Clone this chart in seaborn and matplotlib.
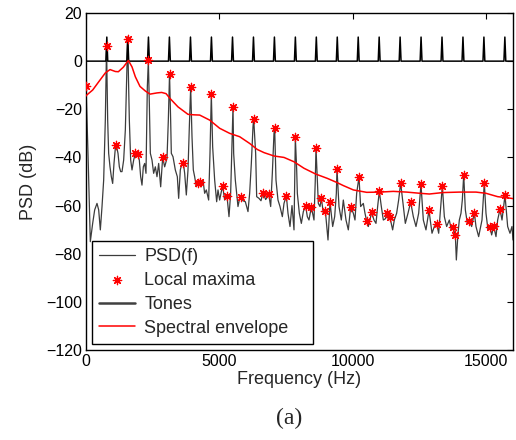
import matplotlib
matplotlib.use("Agg")
import matplotlib.pyplot as plt
import seaborn as sns
import numpy as np

# ---------------- data ----------------
psd_freq = [0, 75, 162, 250, 325, 412, 475, 537, 600, 662, 724, 770, 812, 849, 899, 949, 999, 1049, 1099,
            1136, 1199, 1249, 1299, 1349, 1411, 1474, 1561, 1624, 1674, 1724, 1786, 1848, 1898, 1936, 1998,
            2048, 2098, 2148, 2198, 2248, 2298, 2336, 2373, 2411, 2473, 2535, 2598, 2660, 2723, 2798, 2873,
            2947, 3035, 3085, 3130,
            3172, 3197, 3260, 3347, 3422, 3472, 3534, 3597, 3647, 3697, 3759, 3822, 3872, 3922, 3972, 4021,
            4071, 4134, 4196, 4271, 4321, 4384, 4446, 4508, 4596, 4646, 4696, 4746, 4821, 4896, 4946, 5008,
            5071, 5121, 5196, 5283, 5358, 5420, 5483, 5508, 5533, 5595, 5645, 5695, 5745, 5795, 5882, 5970,
            6070, 6132, 6195, 6257, 6283,
            6357, 6395, 6482, 6557, 6632, 6732, 6795, 6845, 6920, 6982, 7044, 7070, 7119, 7194, 7269, 7357,
            7419, 7507, 7569, 7644, 7719, 7794, 7844, 7894, 7919, 7994, 8069, 8144, 8231, 8293, 8356, 8443,
            8543, 8590, 8618, 8668, 8705, 8768, 8818, 8893, 8968, 9068, 9143, 9243, 9318, 9380, 9405, 9480,
            9567, 9642,
            9742, 9829, 9917, 10017, 10079, 10142, 10229, 10291, 10391, 10454, 10516, 10579, 10704, 10791,
            10866, 10928, 10991, 11066, 11141, 11216, 11290, 11340, 11390, 11490, 11553, 11640, 11715, 11790,
            11890, 11965, 12065, 12165, 12265, 12365, 12465, 12552, 12640, 12739, 12852,
            12965, 13052, 13140, 13215, 13290, 13352, 13427, 13514, 13614, 13689, 13764, 13800, 13839, 13877,
            13939, 13989, 14051, 14101, 14153, 14214, 14289, 14364, 14451, 14551, 14613, 14713, 14788, 14838,
            14925, 14988, 15063, 15139, 15200, 15276, 15363, 15425, 15513, 15588, 15700, 15800, 15887, 15962,
            16000]
psd_db = [-10.0, -38.3, -75, -67.4, -61.8, -59.1, -61.8, -70.1, -60.4, -49.4, -24.5, 6.2, -24.5, -38.3, -43.9,
          -48, -50.8, -42.5, -36.2, -34.9, -38.3, -43.9, -45.9, -45.9, -41.1, -28.6, 9.1, -24.5, -41.1, -45.2,
          -41.1, -38.3, -39.7, -38.6, -41.1, -48, -51.5, -43.9, -42.5, -46.6, -10.7, 0.3, -17.6, -38.3, -41.1,
          -46.6, -43.9, -48, -42.5, -52.2, -40, -43.9, -40.4, -24.5, -5.3,
          -24.5, -38.3, -39.7, -45.2, -48, -57, -45.2, -42.5, -42.2, -46.6, -55.6, -45.2, -27.3, -10.9, -31.4,
          -45.2, -48, -52.2, -50.5, -50.2, -52.2, -49.4, -54.9, -53.5, -57.7, -38.3, -13.8, -35.6, -49.4,
          -58.4, -53.5, -57.7, -54.2, -51.9, -57.7, -56, -64.6, -54.9, -30, -19, -38.3, -49.4, -54.9, -60.4,
          -57.7, -56.3, -58, -58.4, -62.5, -54.9, -42.5, -27.3, -24,
          -38.3, -56.3, -57, -58, -54.6, -57.5, -56.5, -55.1, -60.4, -46.6, -30, -27.9, -49.4, -57.7, -60.4,
          -64.6, -59.1, -55.9, -63.2, -68.7, -60, -70.1, -31.7, -45, -54.9, -63.2, -67.4, -62.5, -60.2, -64.6,
          -66, -60.6, -66, -50, -36, -49.4, -59.1, -60.4, -57, -63, -62.1, -74.3, -58.6, -68.7, -64.6, -55,
          -44.8, -60.4, -66, -57.7,
          -66, -70.1, -60.5, -63.2, -66, -54.9, -48.1, -60.4, -59.1, -63.2, -66.4, -68.7, -62.8, -66, -67.4,
          -60.4, -54.1, -60.4, -66, -65.5, -63.2, -66, -64.9, -70.1, -66, -63.2, -57.7, -50.6, -60.4, -67.4,
          -63.2, -58.5, -64.6, -68.7, -63.2, -51.2, -66, -70.1, -62,
          -71.5, -68.7, -67.5, -71.5, -60.4, -51.7, -64.6, -68.7, -66, -70.1, -69, -71, -72.2, -82.6, -71.5,
          -66, -63.2, -57.7, -47.2, -61.8, -67.4, -66.4, -68.7, -62.9, -68.7, -72.9, -68.7, -66, -50.5, -63.2,
          -70.1, -68.9, -72.2, -68.6, -72.9, -66, -61.5, -66, -55.7, -68.7, -71.5, -68.7, -74.3]

max_freq = [0, 770, 1136, 1561, 1848, 1936, 2336, 2873, 3130, 3647, 3922, 4196, 4271, 4696, 5121, 5283,
            5508, 5795, 6283, 6632, 6845, 7070, 7507, 7844, 8231, 8443, 8618, 8818, 8968, 9143, 9405, 9917,
            10229, 10516, 10704, 10991, 11290, 11390, 11790, 12165, 12552, 12852, 13140, 13352, 13764, 13839,
            14153, 14364, 14551, 14925, 15139, 15276, 15513, 15700]
max_db = [-10.2, 6.2, -34.9, 9.1, -38.3, -38.6, 0.3, -40, -5.3, -42.2, -10.9, -50.5, -50.2, -13.8, -51.9, -56,
          -19, -56.3, -24, -54.6, -55.1, -27.9, -55.9, -31.7, -60.2, -60.6, -36, -57, -62.1, -58.6, -44.8,
          -60.5, -48.1, -66.4, -62.8, -54.1, -63.2, -64.9, -50.6, -58.5, -51.2, -62, -67.5, -51.7, -69, -72.2,
          -47.2, -66.4, -62.9, -50.5, -68.9, -68.6, -61.5, -55.7]

tone_freq = [780, 1565, 2340, 3125, 3915, 4700, 5490, 6275, 7060, 7845, 8630, 9415, 10200, 10985, 11770,
             12555, 13340, 14125, 14910, 15695]
tone_level = 10
freq_range = [0, 16000]

env_freq = [0, 25, 250, 475, 724, 900, 1099, 1212, 1400, 1587, 1724, 1849, 2023, 2223, 2398, 2660, 2835,
            3000, 3148, 3447, 3822, 4040, 4260, 4635, 5009, 5384, 5759, 6134, 6419, 6670, 7044, 7419, 7794,
            8168, 8606, 9043, 9418, 9643, 10017, 10517, 11016, 11515, 12016, 12515, 12865, 13365, 13989,
            14613, 14988, 15425, 15737, 16000]
env_db = [-14.5, -14.1, -12, -8.6, -4.9, -3.5, -4.3, -4.4, -2.5, 0.3, -2.4, -6.5, -10.5, -12.4, -13.7, -13.2,
          -13.0, -13.5, -15.5, -19, -22.1, -22.3, -22.4, -24.5, -27.9, -30, -31.4, -34.2, -36.7, -38, -39.4,
          -40, -41.8, -44.5, -46.9, -48.7, -50.5, -51.7, -53.5, -54.5, -54.4, -54.1, -54.4, -54.9, -55.2,
          -54.6, -54.4, -54.4, -54.9, -56.3, -56.7, -57.1]

x_ticks = [0, 5000, 10000, 15000]
y_ticks = [-120, -100, -80, -60, -40, -20, 0, 20]

# ---------------- style ----------------
sns.set_style("white")
plt.rcParams['font.family'] = ['Liberation Sans', 'DejaVu Sans']
plt.rcParams['xtick.direction'] = 'in'
plt.rcParams['ytick.direction'] = 'in'

fig = plt.figure(figsize=(5.16, 4.40), dpi=100)
ax = fig.add_axes([86 / 516, 1 - 350 / 440, 427 / 516, 337 / 440])

# tone spikes line built from tone frequencies
hw = 35
tx = [freq_range[0]]
ty = [0]
for f in tone_freq:
    tx += [f - hw, f, f + hw]
    ty += [0, tone_level, 0]
tx.append(freq_range[1])
ty.append(0)

sns.lineplot(x=psd_freq, y=psd_db, ax=ax, color='#3c3c3c', lw=0.9, estimator=None,
             label='PSD(f)')
sns.scatterplot(x=max_freq, y=max_db, ax=ax, color='red', marker=(8, 2, 0), s=36,
                linewidth=0.9, label='Local maxima', zorder=4)
sns.lineplot(x=tx, y=ty, ax=ax, color='black', lw=1.1, estimator=None, sort=False,
             label='Tones')
sns.lineplot(x=env_freq, y=env_db, ax=ax, color='red', lw=1.1, estimator=None,
             label='Spectral envelope', zorder=3)

ax.set_xlim(freq_range)
ax.set_ylim(-120, 20)
ax.set_xticks(x_ticks)
ax.set_yticks(y_ticks)
ax.tick_params(axis='both', which='both', top=True, right=True, length=4, width=0.8,
               labelsize=11.5, colors='black', pad=3)
for s in ax.spines.values():
    s.set_color('black')
    s.set_linewidth(1.0)
ax.set_xlabel('Frequency (Hz)', fontsize=13, labelpad=1)
ax.set_ylabel('PSD (dB)', fontsize=13, labelpad=6)

leg = ax.legend(loc='lower left', bbox_to_anchor=(6 / 427, 6 / 337, 221 / 427, 0.2),
                mode='expand', borderaxespad=0, fontsize=13, frameon=True, fancybox=False,
                framealpha=1, edgecolor='black', handlelength=2.0, handletextpad=0.5,
                labelspacing=0.38, borderpad=0.4)
leg.get_frame().set_linewidth(1.0)
hl = leg.legend_handles
hl[0].set_linewidth(0.9)
hl[2].set_color('#404040')
hl[2].set_linewidth(1.8)

fig.text(289 / 516, 1 - 418 / 440, '(a)', family=['Liberation Serif', 'DejaVu Serif'],
         fontsize=17, ha='center', va='center')

fig.savefig('out.png', dpi=100)
